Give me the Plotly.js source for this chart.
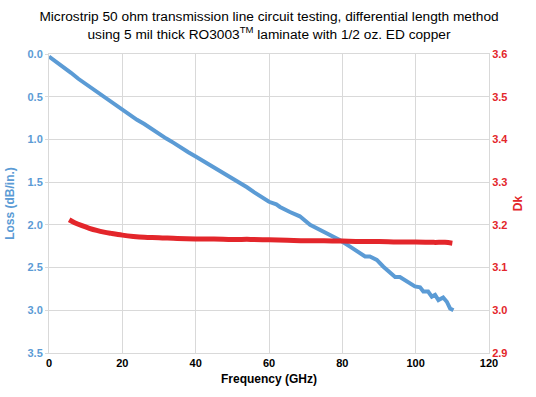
<!DOCTYPE html>
<html>
<head>
<meta charset="utf-8">
<script src="https://cdn.plot.ly/plotly-3.0.1.min.js"></script>
<style>html,body{margin:0;padding:0;background:#fff;}#chart{width:536px;height:397px;}</style>
</head>
<body>
<div id="chart"></div>
<script>
// Loss (dB/in.) vs frequency (GHz)
const lossFreq = [0,2,4,6,8,10,12,14,16,18,20,22,24,26,28,30,32,34,36,38,40,42,44,46,48,50,52,54,56,58,60,62,63,65.7,68.4,71.2,73.9,76.6,79.4,82.1,84.8,86.2,87.5,89.4,91.2,93.0,94.4,95.7,97.1,98.4,99.8,101.2,102.1,103.4,104.4,105.3,106.2,107.5,108.5,109.4,110.3];
const lossVals = [0.03,0.09,0.16,0.22,0.29,0.35,0.41,0.47,0.54,0.60,0.66,0.71,0.77,0.82,0.88,0.93,0.99,1.04,1.10,1.15,1.20,1.25,1.30,1.36,1.41,1.46,1.51,1.56,1.62,1.67,1.73,1.76,1.79,1.85,1.90,2.00,2.06,2.12,2.18,2.255,2.33,2.37,2.37,2.41,2.49,2.55,2.61,2.61,2.65,2.68,2.72,2.73,2.78,2.78,2.84,2.82,2.88,2.85,2.90,2.98,3.00];
// Dk vs frequency (GHz)
const dkFreq = [5.5,7,9,11,13,15,17,20,23,26,30,35,40,45,50,55,60,65,70,75,80,85,90,95,100,105,108,110];
const dkVals = [3.212,3.205,3.198,3.192,3.187,3.183,3.180,3.176,3.173,3.171,3.170,3.168,3.167,3.167,3.166,3.166,3.165,3.164,3.163,3.163,3.162,3.161,3.161,3.160,3.160,3.159,3.159,3.157];

const titleText = 'Microstrip 50 ohm transmission line circuit testing, differential length method<br>using 5 mil thick RO3003<sup>TM</sup> laminate with 1/2 oz. ED copper';
const xTitle = 'Frequency (GHz)';
const yTitle = 'Loss (dB/in.)';
const y2Title = 'Dk';

const blue = '#5b9bd5';
const red = '#e3262b';
const grid = '#d9d9d9';
const font = 'Liberation Sans, Arial, sans-serif';

const traces = [
  {x: lossFreq, y: lossVals, type: 'scatter', mode: 'lines', yaxis: 'y',
   line: {color: blue, width: 4}, hoverinfo: 'skip'},
  {x: dkFreq, y: dkVals, type: 'scatter', mode: 'lines', yaxis: 'y2',
   line: {color: red, width: 5, shape: 'spline'}, hoverinfo: 'skip'}
];

const layout = {
  width: 536, height: 397,
  margin: {l: 49, r: 47, t: 54, b: 44, pad: 0},
  paper_bgcolor: '#fff', plot_bgcolor: '#fff',
  showlegend: false,
  font: {family: font, color: '#000'},
  title: {text: titleText, font: {family: font, size: 13.7, color: '#000'},
          x: 0.5, xanchor: 'center', xref: 'paper', y: 0.947, yanchor: 'top', yref: 'container'},
  xaxis: {range: [0, 120], dtick: 20, tick0: 0, showgrid: true, gridcolor: grid, gridwidth: 1,
          showline: true, linecolor: grid, linewidth: 1, mirror: true, zeroline: false,
          ticks: '', tickfont: {family: font, size: 11, color: '#000', weight: 'bold'},
          title: {text: xTitle, font: {family: font, size: 12, color: '#000', weight: 'bold'}, standoff: 6}},
  yaxis: {range: [3.5, 0], dtick: 0.5, tick0: 0, tickformat: '.1f', showgrid: true, gridcolor: grid, gridwidth: 1,
          showline: true, linecolor: grid, linewidth: 1, zeroline: false, ticks: 'outside', ticklen: 3, tickcolor: grid,
          tickfont: {family: font, size: 11, color: blue, weight: 'bold'},
          title: {text: yTitle, font: {family: font, size: 12, color: blue, weight: 'bold'}, standoff: 10}},
  yaxis2: {range: [2.9, 3.6], dtick: 0.1, tick0: 2.9, tickformat: '.1f', overlaying: 'y', side: 'right',
           showgrid: false, showline: true, linecolor: grid, linewidth: 1, zeroline: false, ticks: '',
           tickfont: {family: font, size: 11, color: red, weight: 'bold'},
           title: {text: y2Title, font: {family: font, size: 12, color: red, weight: 'bold'}, standoff: 6}}
};

Plotly.newPlot('chart', traces, layout, {displayModeBar: false, staticPlot: true});
</script>
</body>
</html>
